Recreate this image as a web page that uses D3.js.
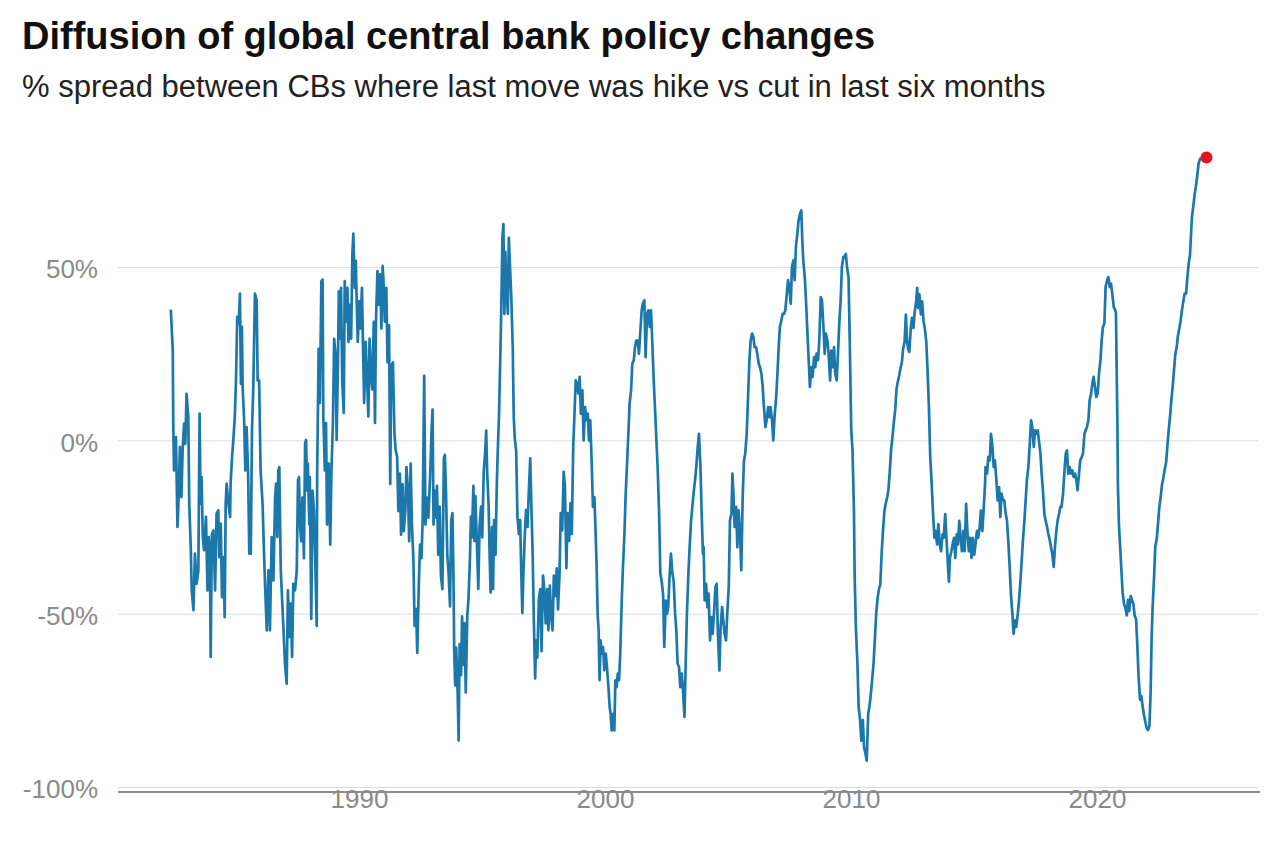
<!DOCTYPE html>
<html>
<head>
<meta charset="utf-8">
<script src="https://cdn.jsdelivr.net/npm/d3@7"></script>
<style>
  html, body { margin: 0; padding: 0; background: #ffffff; }
  svg { display: block; font-family: "Liberation Sans", Arial, Helvetica, sans-serif; }
</style>
</head>
<body>
<svg id="chart" width="1280" height="857"></svg>
<script>
const title = "Diffusion of global central bank policy changes";
const subtitle = "% spread between CBs where last move was hike vs cut in last six months";

const yTicks = [50, 0, -50, -100];
const xTicks = [1990, 2000, 2010, 2020];

const years = [
1982.35,1982.43,1982.45,1982.48,1982.56,1982.62,1982.66,1982.72,1982.78,1982.83,1982.89,1982.94,1982.99,1983.06,1983.10,1983.16,1983.20,1983.27,1983.33,1983.40,1983.47,1983.52,1983.56,1983.60,1983.65,1983.70,1983.78,1983.84,1983.89,1983.94,1983.97,1984.02,1984.08,1984.15,1984.21,1984.28,1984.32,1984.38,1984.43,1984.49,1984.54,1984.58,1984.62,1984.69,1984.76,1984.78,1984.84,1984.89,1984.95,1985.00,1985.05,1985.11,1985.16,1985.20,1985.24,1985.27,1985.33,1985.38,1985.43,1985.49,1985.54,1985.60,1985.65,1985.70,1985.77,1985.84,1985.88,1985.94,1986.00,1986.08,1986.14,1986.19,1986.25,1986.32,1986.38,1986.45,1986.52,1986.59,1986.63,1986.68,1986.72,1986.76,1986.82,1986.87,1986.92,1986.99,1987.06,1987.11,1987.17,1987.22,1987.28,1987.33,1987.40,1987.47,1987.52,
1987.56,1987.60,1987.65,1987.70,1987.76,1987.81,1987.85,1987.89,1987.92,1987.98,1988.00,1988.06,1988.11,1988.17,1988.22,1988.28,1988.30,1988.36,1988.41,1988.47,1988.52,1988.55,1988.61,1988.66,1988.70,1988.77,1988.83,1988.88,1988.94,1988.99,1989.05,1989.09,1989.14,1989.18,1989.24,1989.27,1989.32,1989.38,1989.42,1989.46,1989.53,1989.57,1989.62,1989.68,1989.73,1989.77,1989.83,1989.87,1989.91,1989.95,1990.01,1990.06,1990.12,1990.17,1990.21,1990.27,1990.32,1990.38,1990.43,1990.49,1990.54,1990.60,1990.65,1990.69,1990.75,1990.80,1990.86,1990.91,1990.96,1990.99,1991.05,1991.11,1991.16,1991.22,1991.27,1991.31,1991.38,1991.44,1991.49,1991.55,1991.60,1991.66,1991.71,1991.77,1991.82,1991.88,1991.93,1991.99,1992.04,1992.10,1992.15,1992.21,1992.26,1992.32,1992.37,1992.43,1992.48,1992.54,1992.59,1992.65,1992.70,1992.76,1992.82,1992.89,1992.95,1992.99,1993.03,1993.08,1993.14,
1993.17,1993.22,1993.28,1993.33,1993.39,1993.45,1993.49,1993.53,1993.59,1993.64,1993.70,1993.75,1993.80,1993.84,1993.87,1993.91,1993.95,1994.01,1994.05,1994.09,1994.15,1994.19,1994.24,1994.29,1994.34,1994.40,1994.45,1994.51,1994.55,1994.59,1994.65,1994.69,1994.73,1994.79,1994.85,1994.90,1994.96,1995.01,1995.07,1995.13,1995.17,1995.21,1995.27,1995.31,1995.35,1995.41,1995.45,1995.49,1995.55,1995.60,1995.64,1995.69,1995.74,1995.78,1995.83,1995.87,1995.91,1995.95,1995.99,1996.05,1996.09,1996.13,1996.19,1996.25,1996.29,1996.33,1996.39,1996.44,1996.50,1996.55,1996.60,1996.64,1996.68,1996.73,1996.79,1996.85,1996.90,1996.96,1997.00,1997.06,1997.11,1997.16,1997.20,1997.25,1997.31,1997.37,1997.42,1997.48,1997.53,1997.59,1997.65,1997.70,1997.76,1997.81,1997.87,1997.92,1997.98,1998.04,1998.09,1998.15,1998.20,1998.26,1998.32,1998.37,1998.43,1998.48,1998.54,1998.60,1998.65,1998.71,
1998.75,1998.81,1998.86,1998.92,1998.97,1999.02,1999.08,1999.13,1999.19,1999.24,1999.30,1999.35,1999.40,1999.46,1999.51,1999.57,1999.62,1999.66,1999.70,1999.74,1999.78,1999.82,1999.86,1999.92,1999.97,2000.03,2000.08,2000.14,2000.19,2000.23,2000.27,2000.33,2000.38,2000.42,2000.47,2000.52,2000.57,2000.62,2000.68,2000.73,2000.79,2000.84,2000.89,2000.95,2001.00,2001.06,2001.11,2001.17,2001.22,2001.27,2001.33,2001.38,2001.44,2001.49,2001.54,2001.60,2001.65,2001.71,2001.76,2001.82,2001.87,2001.92,2001.98,2002.03,2002.09,2002.14,2002.20,2002.25,2002.30,2002.36,2002.41,2002.47,2002.52,2002.57,2002.63,2002.68,2002.74,2002.79,2002.85,2002.90,2002.95,2003.01,2003.06,2003.12,2003.17,2003.23,2003.28,2003.33,2003.39,2003.44,2003.50,2003.55,2003.60,2003.66,2003.71,2003.77,2003.82,2003.88,2003.93,2003.98,2004.01,
2004.05,2004.11,2004.16,2004.21,2004.27,2004.32,2004.38,2004.43,2004.49,2004.54,2004.59,2004.65,2004.70,2004.76,2004.81,2004.86,2004.92,2004.97,2005.03,2005.08,2005.14,2005.18,2005.22,2005.27,2005.33,2005.38,2005.43,2005.49,2005.54,2005.60,2005.65,2005.70,2005.76,2005.81,2005.87,2005.92,2005.98,2006.03,2006.08,2006.14,2006.19,2006.25,2006.30,2006.36,2006.41,2006.46,2006.52,2006.57,2006.63,2006.68,2006.73,2006.79,2006.84,2006.90,2006.95,2007.01,2007.06,2007.11,2007.17,2007.22,2007.28,2007.33,2007.39,2007.44,2007.49,2007.55,2007.60,2007.66,2007.71,2007.76,2007.82,2007.87,2007.93,2007.98,2008.02,2008.06,2008.12,2008.17,2008.23,2008.28,2008.33,2008.39,2008.44,2008.50,2008.55,2008.60,2008.66,2008.71,2008.77,2008.82,2008.88,2008.93,2008.98,2009.04,2009.09,2009.15,2009.20,2009.26,2009.31,2009.36,2009.42,2009.47,2009.53,2009.58,2009.63,2009.69,
2009.73,2009.79,2009.84,2009.90,2009.95,2010.01,2010.06,2010.12,2010.15,2010.20,2010.26,2010.31,2010.37,2010.42,2010.48,2010.53,2010.59,2010.64,2010.70,2010.75,2010.81,2010.86,2010.92,2010.97,2011.03,2011.08,2011.14,2011.19,2011.25,2011.30,2011.36,2011.41,2011.47,2011.52,2011.58,2011.63,2011.69,2011.74,2011.80,2011.85,2011.90,2011.96,2012.01,2012.07,2012.12,2012.18,2012.23,2012.28,2012.32,2012.37,2012.43,2012.48,2012.54,2012.59,2012.65,2012.69,2012.73,2012.78,2012.84,2012.89,2012.95,2013.00,2013.06,2013.11,2013.17,2013.22,2013.28,2013.33,2013.39,2013.44,2013.50,2013.55,2013.61,2013.66,2013.72,2013.77,2013.83,2013.88,2013.94,2013.98,2014.02,2014.08,2014.13,2014.19,2014.24,2014.30,2014.35,2014.40,2014.46,2014.51,2014.57,2014.62,2014.68,2014.73,2014.79,2014.84,2014.90,2014.95,2015.01,2015.06,2015.12,2015.17,2015.23,2015.28,2015.34,2015.39,2015.45,
2015.47,2015.53,2015.58,2015.64,2015.69,2015.75,2015.80,2015.85,2015.91,2015.96,2016.02,2016.07,2016.12,2016.18,2016.23,2016.29,2016.34,2016.40,2016.45,2016.50,2016.56,2016.61,2016.67,2016.72,2016.78,2016.83,2016.88,2016.94,2016.99,2017.05,2017.10,2017.15,2017.21,2017.26,2017.32,2017.37,2017.43,2017.48,2017.53,2017.59,2017.64,2017.70,2017.75,2017.81,2017.86,2017.91,2017.97,2018.02,2018.08,2018.13,2018.18,2018.24,2018.29,2018.35,2018.40,2018.46,2018.51,2018.56,2018.62,2018.67,2018.73,2018.78,2018.83,2018.89,2018.94,2019.00,2019.05,2019.11,2019.16,2019.21,2019.27,2019.32,2019.38,2019.43,2019.49,2019.54,2019.59,2019.65,2019.70,2019.76,2019.81,2019.86,2019.92,2019.97,2020.03,2020.08,2020.14,2020.19,2020.24,2020.30,2020.35,2020.41,2020.46,2020.52,2020.57,2020.62,2020.68,
2020.72,2020.77,2020.80,2020.83,2020.85,2020.89,2020.94,2020.99,2021.04,2021.10,2021.15,2021.21,2021.26,2021.31,2021.37,2021.42,2021.48,2021.53,2021.59,2021.64,2021.69,2021.75,2021.80,2021.86,2021.91,2021.97,2022.02,2022.07,2022.13,2022.18,2022.22,2022.26,2022.32,2022.37,2022.43,2022.48,2022.53,2022.59,2022.64,2022.70,2022.75,2022.81,2022.86,2022.91,2022.97,2023.02,2023.08,2023.13,2023.18,2023.24,2023.29,2023.35,2023.40,2023.46,2023.51,2023.56,2023.62,2023.67,2023.73,2023.78,2023.81,2023.86,2023.92,2023.97,2024.02,2024.08,2024.13,2024.19,2024.30,2024.45
];

const values = [
37.7,26.0,4.8,-8.7,0.9,-25.0,-18.3,-1.9,-16.4,-2.9,4.8,-1.0,13.4,6.7,-18.3,-30.8,-43.3,-49.0,-32.7,-41.4,-37.5,7.7,-18.3,-10.6,-27.9,-31.7,-22.1,-43.3,-27.9,-32.7,-62.5,-27.0,-26.0,-43.3,-21.2,-20.2,-33.7,-24.0,-45.2,-33.7,-51.0,-18.3,-12.5,-18.3,-22.1,-12.5,-4.8,0,6.7,17.3,35.6,33.6,42.3,16.3,32.7,15.4,5.8,-8.7,3.8,-8.7,-32.7,-32.7,2.9,14.4,42.3,40.4,17.3,17.3,-8.7,-18.3,-32.7,-43.3,-54.8,-37.5,-54.8,-27.9,-40.4,-16.4,-12.5,-27.9,-8.7,-7.7,-37.5,-45.2,-52.9,-64.4,-70.2,-43.3,-56.7,-47.1,-62.5,-41.4,-43.3,-37.5,-11.5,
-10.6,-24.3,-29.1,-16.5,-34.0,-0.9,0.1,-14.5,-6.7,-24.3,-10.6,-51.5,-14.5,-20.4,-34.0,-53.5,-8.7,26.4,10.8,45.9,46.4,6.9,-8.7,5.0,-24.3,-6.7,-30.1,-8.7,5.0,29.3,24.5,0.1,20.6,43.0,29.3,44.0,16.7,7.9,45.9,34.2,44.0,28.4,39.1,29.3,53.7,59.6,44.0,51.8,39.1,28.4,40.1,32.3,44.0,24.5,10.8,28.4,19.6,6.9,29.3,18.6,14.7,34.2,5.0,34.2,48.8,39.1,47.9,32.3,50.3,46.9,34.2,44.0,22.5,33.2,-12.6,21.5,22.5,2.1,-2.8,-4.8,-20.4,-9.6,-27.2,-12.6,-26.2,-20.4,-7.7,-14.5,-29.1,-6.7,-24.3,-34.0,-53.5,-48.6,-61.3,-41.8,-30.1,-34.0,-22.3,18.6,-24.3,-16.5,-22.3,-10.6,3.0,8.9,-24.3,-14.5,-22.3,
-13.1,-33.0,-19.1,-39.0,-42.9,-5.2,-4.2,-13.1,-33.0,-38.0,-47.9,-23.0,-21.0,-39.0,-60.8,-70.7,-59.8,-72.7,-86.6,-58.8,-67.7,-50.8,-64.7,-52.8,-72.7,-50.8,-45.9,-34.0,-22.0,-28.0,-13.1,-29.0,-16.1,-29.0,-42.9,-25.0,-19.1,-28.0,-9.1,-3.2,2.8,-9.1,-19.1,-33.0,-43.9,-25.0,-42.9,-23.0,-33.0,-13.1,-3.2,6.8,22.6,36.5,58.4,62.4,36.5,54.4,44.5,36.5,58.4,51.4,41.5,26.6,6.8,0.8,-3.2,-22.0,-27.0,-23.0,-39.0,-49.8,-39.0,-29.0,-20.1,-25.0,-15.1,-5.2,-17.1,-33.0,-52.8,-68.7,-57.8,-62.7,-45.9,-42.9,-60.8,-39.0,-42.9,-52.8,-42.9,-54.8,-41.9,-50.8,-54.8,-39.0,-44.9,-36.9,-48.8,-39.0,-21.0,-26.0,-9.1,-13.1,-36.9,-21.0,-29.0,-18.1,-27.0,-1.2,
5.8,17.3,16.3,13.5,18.3,7.7,14.4,0,9.6,5.8,7.7,0,5.8,-6.7,-19.2,-16.4,-27.0,-36.5,-50.0,-54.8,-69.2,-57.7,-61.5,-59.6,-66.3,-61.5,-65.4,-71.2,-77.0,-78.9,-83.7,-78.9,-83.7,-69.2,-71.2,-67.3,-69.2,-61.5,-46.2,-36.5,-27.0,-15.4,-7.7,1.9,10.6,14.4,22.1,23.1,26.9,28.8,28.8,25.0,31.7,37.5,39.4,40.4,24.0,36.5,37.5,32.7,37.5,28.8,17.3,9.6,0,-7.7,-21.2,-38.5,-40.4,-44.2,-59.6,-46.2,-50.0,-48.1,-38.5,-32.7,-38.5,-40.4,-50.0,-54.8,-64.4,-65.4,-71.2,-67.3,-72.1,-79.8,-64.4,-50.0,-38.5,-30.8,-23.1,-19.2,-15.4,-11.5,-7.7,-1.9,1.9,-7.7,-21.2,-32.7,-30.8,
-46.2,-41.4,-48.1,-44.2,-57.7,-51.0,-55.8,-50.0,-42.3,-41.4,-55.8,-66.4,-53.9,-48.1,-51.9,-55.8,-57.7,-50.0,-42.3,-23.1,-21.2,-9.6,-15.4,-25.0,-19.2,-30.8,-20.2,-26.9,-37.5,-15.4,-5.8,-3.9,1.9,11.5,23.1,28.8,30.8,29.8,26.9,26.9,25.0,22.1,21.1,19.2,15.4,9.6,3.8,5.8,9.6,6.7,9.6,5.8,0,7.7,11.5,19.2,26.9,32.7,34.6,36.5,36.5,37.5,42.3,46.2,44.2,39.4,50.0,51.9,46.2,55.8,59.6,63.5,65.4,66.3,57.7,51.9,47.1,40.4,30.8,23.1,15.4,21.1,18.3,24.0,21.1,25.0,23.1,28.8,41.3,40.4,32.7,25.0,30.8,28.8,25.0,17.3,25.9,21.1,26.9,19.2,17.3,25.0,34.6,40.4,50.0,52.9,
52.8,53.8,49.9,47.0,28.5,3.1,-2.7,-20.3,-39.8,-54.4,-64.1,-76.8,-80.7,-86.6,-80.7,-88.5,-90.5,-92.4,-78.8,-76.8,-72.9,-69.0,-64.1,-57.3,-49.5,-45.6,-42.7,-41.7,-32.0,-26.1,-20.3,-18.3,-16.4,-14.4,-8.6,-2.7,1.2,5.1,9.0,14.8,16.8,18.7,20.7,22.6,26.5,28.5,36.3,28.5,26.5,25.5,32.4,35.3,32.4,37.2,40.1,44.0,38.2,42.1,36.3,40.1,34.3,32.4,28.5,20.7,9.0,-4.7,-12.5,-20.3,-28.1,-26.1,-30.0,-24.2,-30.0,-32.0,-27.1,-28.1,-21.3,-28.1,-35.9,-40.8,-33.9,-32.0,-30.0,-28.1,-33.9,-27.1,-30.0,-23.2,-28.1,-32.0,-26.1,-32.0,-18.3,-26.1,-32.0,-28.1,-33.9,-28.1,-33.0,-30.0,-26.1,-28.1,-25.2,-20.3,-26.1,-20.3,-12.5,
-7.7,-9.6,-4.8,-5.8,1.9,-1.9,-7.7,-5.8,-11.5,-17.3,-13.5,-22.1,-15.4,-17.3,-17.3,-21.2,-23.1,-29.8,-36.5,-44.2,-50.0,-55.8,-51.9,-53.8,-50.0,-46.2,-41.3,-34.6,-28.8,-23.1,-17.3,-11.5,-7.7,-1.9,5.8,3.8,-1.9,2.9,1.9,2.9,0,-3.8,-9.6,-15.4,-21.2,-23.1,-25.0,-26.9,-28.8,-30.8,-32.7,-36.5,-30.8,-26.0,-23.1,-21.2,-19.2,-19.2,-15.4,-9.6,-3.8,-2.9,-9.6,-7.7,-9.6,-8.7,-10.6,-9.6,-11.5,-14.4,-9.6,-5.8,-4.8,-3.8,1.9,2.9,3.8,5.8,11.5,13.5,16.3,18.3,15.4,12.5,13.5,19.2,23.1,28.8,32.7,33.7,44.2,46.2,47.1,44.2,45.2,42.3,38.5,
37.9,36.8,20.2,4.8,-12.9,-24.0,-30.6,-37.2,-43.8,-47.2,-48.2,-50.5,-46.0,-49.3,-44.9,-46.0,-47.2,-50.5,-51.6,-59.3,-68.1,-74.8,-73.7,-77.0,-79.2,-81.4,-83.0,-83.6,-82.5,-72.6,-57.1,-48.2,-39.4,-30.6,-28.4,-24.0,-19.5,-16.2,-12.9,-10.7,-8.5,-6.3,-1.8,2.6,7.0,11.4,15.8,20.2,24.7,26.9,30.2,32.4,34.6,37.9,40.1,42.3,42.3,46.8,51.2,53.4,57.8,64.4,67.8,71.1,73.3,76.6,79.9,81.2,81.4,81.6
];

const series = years.map((yr, i) => ({ year: yr, value: values[i] }));

const svg = d3.select("#chart");
const gridLeft = 118, gridRight = 1258;

const x = d3.scaleLinear().domain([1990, 2020]).range([359, 1097]);
const y = d3.scaleLinear().domain([-100, 50]).range([787, 267]);

// Title & subtitle
svg.append("text")
  .attr("x", 22).attr("y", 49)
  .attr("font-size", 38).attr("font-weight", 700).attr("fill", "#111")
  .text(title);
svg.append("text")
  .attr("x", 22).attr("y", 97)
  .attr("font-size", 31).attr("fill", "#222")
  .text(subtitle);

// Y axis with gridlines
const yAxis = d3.axisLeft(y)
  .tickValues(yTicks)
  .tickSize(gridRight - gridLeft)
  .tickPadding(20)
  .tickFormat(d => d + "%");
const gy = svg.append("g")
  .attr("transform", `translate(${gridRight},0)`)
  .call(yAxis);
gy.select(".domain").remove();
gy.selectAll(".tick line").attr("stroke", "#dcdcdc").attr("stroke-width", 1);
gy.selectAll(".tick text")
  .attr("fill", "#8a8a8a")
  .attr("font-size", 26)
  .attr("font-family", "Liberation Sans, Arial, sans-serif")
  .attr("dy", "0.42em");

// Bottom baseline
svg.append("line")
  .attr("x1", gridLeft).attr("x2", gridRight + 2)
  .attr("y1", 792).attr("y2", 792)
  .attr("stroke", "#8c8c8c").attr("stroke-width", 2);

// X axis
const xAxis = d3.axisBottom(x)
  .tickValues(xTicks)
  .tickSize(0)
  .tickPadding(0)
  .tickFormat(d3.format("d"));
const gx = svg.append("g")
  .attr("transform", "translate(0,790)")
  .call(xAxis);
gx.select(".domain").remove();
gx.selectAll(".tick text")
  .attr("fill", "#8a8a8a")
  .attr("font-size", 26)
  .attr("font-family", "Liberation Sans, Arial, sans-serif");

// Line
const line = d3.line()
  .x(d => x(d.year))
  .y(d => y(d.value));

svg.append("path")
  .datum(series)
  .attr("fill", "none")
  .attr("stroke", "#1c78aa")
  .attr("stroke-width", 2.7)
  .attr("stroke-linejoin", "round")
  .attr("d", line);

// Last point marker
const last = series[series.length - 1];
svg.append("circle")
  .attr("cx", x(last.year))
  .attr("cy", y(last.value))
  .attr("r", 6)
  .attr("fill", "#e5131b");
</script>
</body>
</html>
